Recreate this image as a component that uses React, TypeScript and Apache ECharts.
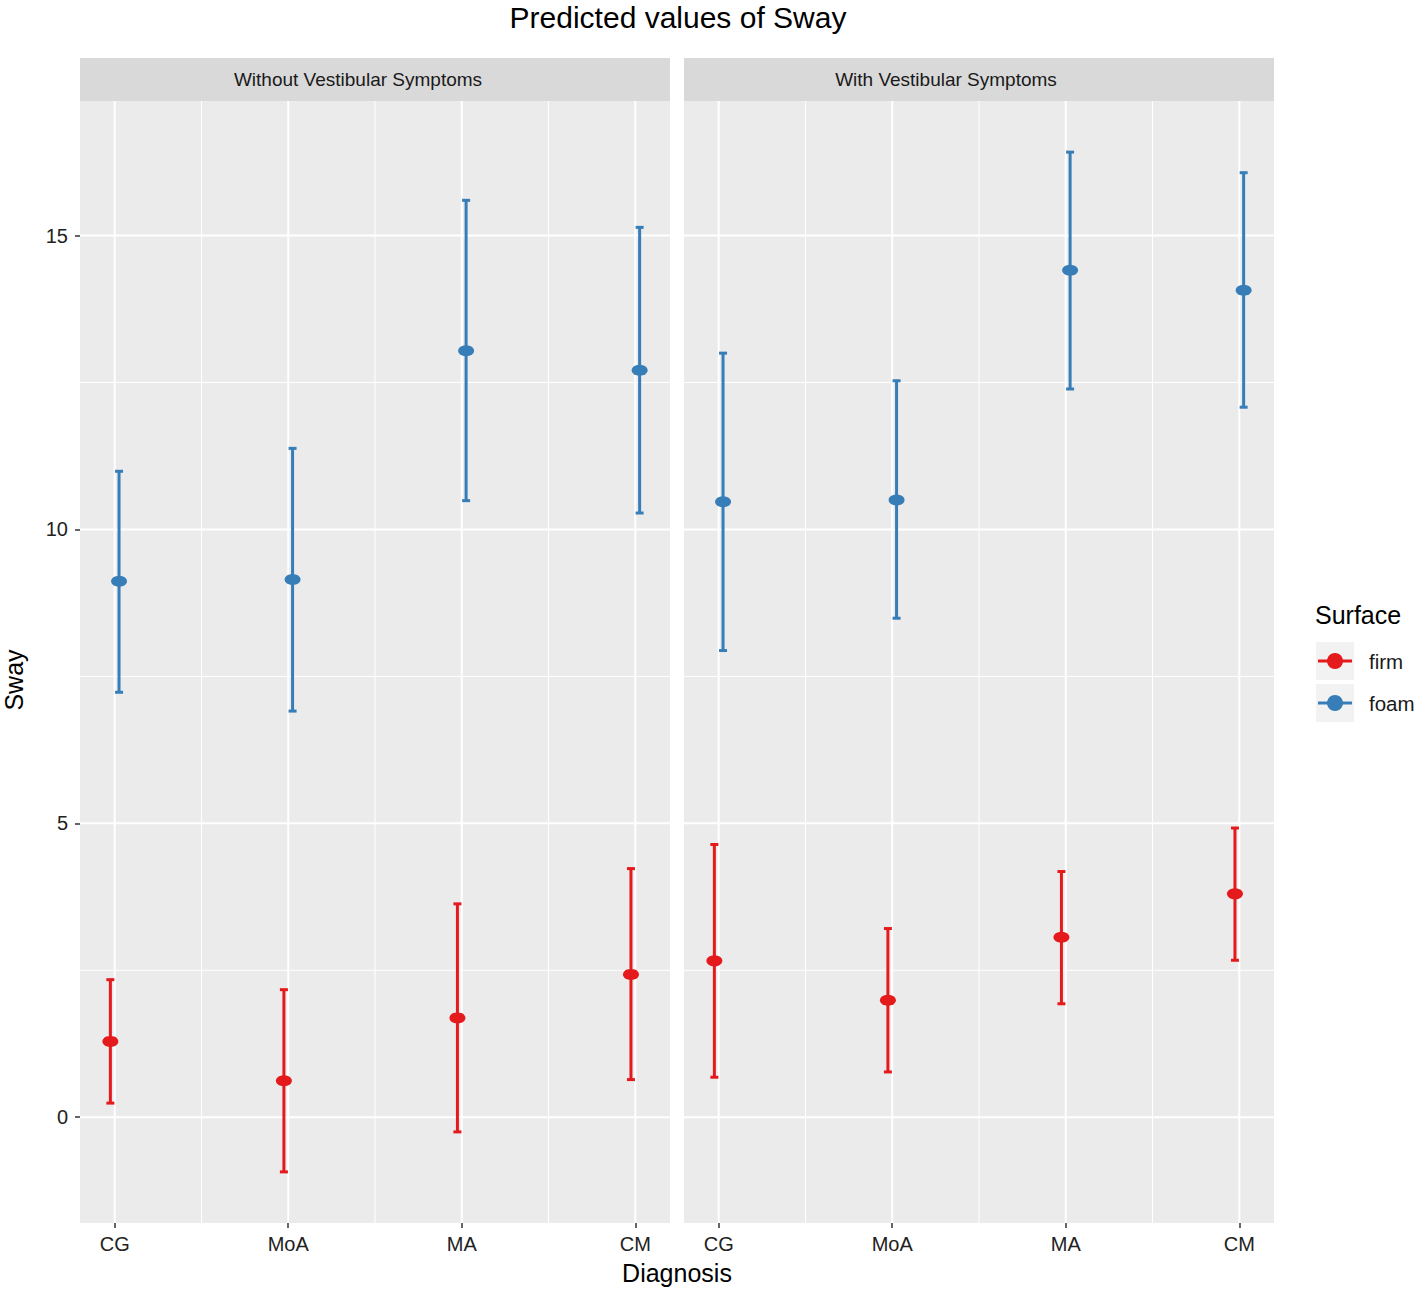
import React, { useEffect, useRef } from "react";
import * as echarts from "echarts";

// ---------- data ----------
const diagnoses = ["CG", "MoA", "MA", "CM"];
const panels = ["Without Vestibular Symptoms", "With Vestibular Symptoms"];
const surfaces = ["firm", "foam"];

const firmWithoutFit = [1.29, 0.62, 1.69, 2.43];
const firmWithoutLow = [0.24, -0.93, -0.25, 0.64];
const firmWithoutHigh = [2.34, 2.17, 3.63, 4.23];

const foamWithoutFit = [9.12, 9.15, 13.04, 12.71];
const foamWithoutLow = [7.23, 6.91, 10.49, 10.28];
const foamWithoutHigh = [10.99, 11.38, 15.6, 15.14];

const firmWithFit = [2.66, 1.99, 3.06, 3.8];
const firmWithLow = [0.68, 0.77, 1.93, 2.67];
const firmWithHigh = [4.64, 3.21, 4.18, 4.92];

const foamWithFit = [10.47, 10.5, 14.41, 14.07];
const foamWithLow = [7.94, 8.49, 12.39, 12.08];
const foamWithHigh = [13.0, 12.53, 16.42, 16.07];

const yTicks = [0, 5, 10, 15];
const yMinorBreaks = [2.5, 7.5, 12.5];

// ---------- style ----------
const FONT = "'Liberation Sans', Arial, Helvetica, sans-serif";
const COLORS: Record<string, string> = { firm: "#E41A1C", foam: "#377EB8" };
const Y_MIN = -1.8;
const Y_MAX = 17.29;
const X_MIN = -0.2;
const X_MAX = 3.2;
const DODGE = 0.025;
const GRID_LEFTS = [80, 684];
const GRID_TOP = 101;
const GRID_W = 590;
const GRID_H = 1122;

const xIdx = diagnoses.map((_, i) => i);
const xMinor = diagnoses.slice(1).map((_, i) => i + 0.5);

type GL = { dir: "v" | "h"; v: number; w: number };
const gridLines: GL[] = [
  ...xMinor.map((v) => ({ dir: "v" as const, v, w: 1 })),
  ...yMinorBreaks.map((v) => ({ dir: "h" as const, v, w: 1 })),
  ...xIdx.map((v) => ({ dir: "v" as const, v, w: 2 })),
  ...yTicks.map((v) => ({ dir: "h" as const, v, w: 2 })),
];

function gridLineSeries(g: number) {
  return {
    type: "custom",
    xAxisIndex: g,
    yAxisIndex: g,
    silent: true,
    z: 1,
    data: gridLines.map((l) => (l.dir === "v" ? [l.v, 0] : [0, l.v])),
    renderItem: (params: any, api: any) => {
      const l = gridLines[params.dataIndex];
      const cs = params.coordSys;
      if (l.dir === "v") {
        const x = api.coord([l.v, 0])[0];
        return {
          type: "line",
          shape: { x1: x, y1: cs.y, x2: x, y2: cs.y + cs.height },
          style: { stroke: "#FFFFFF", lineWidth: l.w },
        };
      }
      const y = api.coord([0, l.v])[1];
      return {
        type: "line",
        shape: { x1: cs.x, y1: y, x2: cs.x + cs.width, y2: y },
        style: { stroke: "#FFFFFF", lineWidth: l.w },
      };
    },
  };
}

function errorBarSeries(name: string, g: number, low: number[], high: number[], offset: number) {
  const color = COLORS[name];
  return {
    type: "custom",
    name,
    xAxisIndex: g,
    yAxisIndex: g,
    silent: true,
    z: 3,
    data: low.map((l, i) => [i + offset, l, high[i]]),
    encode: { x: 0, y: [1, 2] },
    renderItem: (params: any, api: any) => {
      const x = api.value(0);
      const lo = api.coord([x, api.value(1)]);
      const hi = api.coord([x, api.value(2)]);
      const hw = 4;
      const style = { stroke: color, lineWidth: 3 };
      return {
        type: "group",
        children: [
          { type: "line", shape: { x1: lo[0], y1: lo[1], x2: hi[0], y2: hi[1] }, style },
          { type: "line", shape: { x1: lo[0] - hw, y1: lo[1], x2: lo[0] + hw, y2: lo[1] }, style },
          { type: "line", shape: { x1: hi[0] - hw, y1: hi[1], x2: hi[0] + hw, y2: hi[1] }, style },
        ],
      };
    },
  };
}

function pointSeries(name: string, g: number, fit: number[], offset: number) {
  return {
    type: "scatter",
    name,
    xAxisIndex: g,
    yAxisIndex: g,
    silent: true,
    z: 4,
    symbol: "circle",
    symbolSize: [16, 11],
    itemStyle: { color: COLORS[name], opacity: 1 },
    data: fit.map((v, i) => [i + offset, v]),
  };
}

export default function App() {
  const ref = useRef<HTMLDivElement>(null);
  useEffect(() => {
    if (!ref.current) return;
    const chart = echarts.init(ref.current, undefined, { renderer: "svg" });

    const panelData = [
      {
        firm: [firmWithoutFit, firmWithoutLow, firmWithoutHigh],
        foam: [foamWithoutFit, foamWithoutLow, foamWithoutHigh],
      },
      {
        firm: [firmWithFit, firmWithLow, firmWithHigh],
        foam: [foamWithFit, foamWithLow, foamWithHigh],
      },
    ];

    const series: any[] = [];
    panelData.forEach((pd, g) => {
      series.push(gridLineSeries(g));
      surfaces.forEach((s, si) => {
        const off = si === 0 ? -DODGE : DODGE;
        const [fit, lo, hi] = (pd as any)[s];
        series.push(errorBarSeries(s, g, lo, hi, off));
        series.push(pointSeries(s, g, fit, off));
      });
    });

    const strips: any[] = [];
    const stripTextX = [358, 946];
    panels.forEach((p, g) => {
      strips.push({
        type: "rect",
        shape: { x: GRID_LEFTS[g], y: 58, width: GRID_W, height: 43 },
        style: { fill: "#D9D9D9" },
        silent: true,
      });
      strips.push({
        type: "text",
        x: stripTextX[g],
        y: 79.5,
        style: {
          text: p,
          fontFamily: FONT,
          fontSize: 19,
          fill: "#1A1A1A",
          textAlign: "center",
          textVerticalAlign: "middle",
        },
        silent: true,
      });
    });

    const legend: any[] = [
      {
        type: "text",
        x: 1315,
        y: 615,
        style: {
          text: "Surface",
          fontFamily: FONT,
          fontSize: 25,
          fill: "#000000",
          textAlign: "left",
          textVerticalAlign: "middle",
        },
      },
    ];
    surfaces.forEach((s, i) => {
      const y0 = 642 + i * 42;
      legend.push({ type: "rect", shape: { x: 1316, y: y0, width: 38, height: 38 }, style: { fill: "#F2F2F2" } });
      legend.push({
        type: "line",
        shape: { x1: 1318, y1: y0 + 19, x2: 1352, y2: y0 + 19 },
        style: { stroke: COLORS[s], lineWidth: 3 },
      });
      legend.push({ type: "circle", shape: { cx: 1335, cy: y0 + 19, r: 8 }, style: { fill: COLORS[s] } });
      legend.push({
        type: "text",
        x: 1369,
        y: y0 + 19,
        style: {
          text: s,
          fontFamily: FONT,
          fontSize: 20.5,
          fill: "#1A1A1A",
          textAlign: "left",
          textVerticalAlign: "middle",
        },
      });
    });

    const option: any = {
      animation: false,
      backgroundColor: "#FFFFFF",
      textStyle: { fontFamily: FONT },
      grid: GRID_LEFTS.map((left) => ({
        left,
        top: GRID_TOP,
        width: GRID_W,
        height: GRID_H,
        show: true,
        backgroundColor: "#EBEBEB",
        borderWidth: 0,
        containLabel: false,
      })),
      xAxis: GRID_LEFTS.map((_, g) => ({
        type: "value",
        gridIndex: g,
        position: "bottom",
        min: X_MIN,
        max: X_MAX,
        axisLine: { show: false, onZero: false },
        splitLine: { show: false },
        axisTick: { show: true, customValues: xIdx, length: 5, lineStyle: { color: "#333333", width: 1.5 } },
        axisLabel: {
          customValues: xIdx,
          formatter: (v: number) => diagnoses[Math.round(v)],
          fontSize: 20,
          color: "#222222",
          fontFamily: FONT,
          margin: 11,
        },
      })),
      yAxis: GRID_LEFTS.map((_, g) => ({
        type: "value",
        gridIndex: g,
        position: "left",
        min: Y_MIN,
        max: Y_MAX,
        axisLine: { show: false, onZero: false },
        splitLine: { show: false },
        axisTick: {
          show: g === 0,
          customValues: yTicks,
          length: 5,
          lineStyle: { color: "#333333", width: 1.5 },
        },
        axisLabel: {
          show: g === 0,
          customValues: yTicks,
          fontSize: 20,
          color: "#222222",
          fontFamily: FONT,
          margin: 12,
        },
      })),
      series,
      graphic: [
        {
          type: "text",
          x: 678,
          y: 17,
          style: {
            text: "Predicted values of Sway",
            fontFamily: FONT,
            fontSize: 30,
            fill: "#000000",
            textAlign: "center",
            textVerticalAlign: "middle",
          },
        },
        {
          type: "text",
          x: 677,
          y: 1273,
          style: {
            text: "Diagnosis",
            fontFamily: FONT,
            fontSize: 25,
            fill: "#000000",
            textAlign: "center",
            textVerticalAlign: "middle",
          },
        },
        {
          type: "text",
          x: 14,
          y: 680,
          rotation: Math.PI / 2,
          style: {
            text: "Sway",
            fontFamily: FONT,
            fontSize: 25,
            fill: "#000000",
            textAlign: "center",
            textVerticalAlign: "middle",
          },
        },
        ...strips,
        ...legend,
      ],
    };

    chart.setOption(option);
    return () => chart.dispose();
  }, []);

  return (
    <div
      ref={ref}
      style={{ position: "fixed", left: 0, top: 0, width: 1418, height: 1290, background: "#fff" }}
    />
  );
}
